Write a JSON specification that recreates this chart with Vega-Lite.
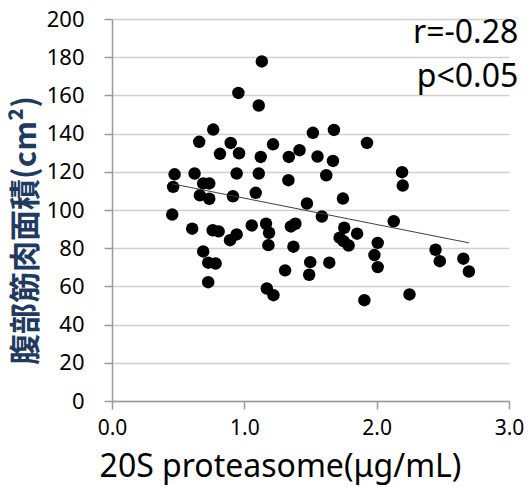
{
  "$schema": "https://vega.github.io/schema/vega-lite/v6.json",
  "width": 397,
  "height": 382,
  "autosize": "none",
  "padding": {"left": 112, "top": 19, "right": 19, "bottom": 86},
  "background": "white",
  "config": {"view": {"stroke": null}, "font": "Noto Sans"},
  "datasets": {
    "points": [
      {"x": 1.132, "y": 177.8}, {"x": 0.955, "y": 161.3}, {"x": 1.109, "y": 154.7}, {"x": 0.765, "y": 142.1},
      {"x": 0.659, "y": 135.7}, {"x": 0.897, "y": 135.1}, {"x": 0.816, "y": 129.4}, {"x": 0.960, "y": 129.7},
      {"x": 1.124, "y": 127.8}, {"x": 1.217, "y": 134.4}, {"x": 1.336, "y": 127.8}, {"x": 1.417, "y": 131.3},
      {"x": 1.518, "y": 140.4}, {"x": 1.677, "y": 141.9}, {"x": 1.553, "y": 128.0}, {"x": 1.670, "y": 125.7},
      {"x": 0.473, "y": 118.7}, {"x": 0.624, "y": 119.1}, {"x": 0.942, "y": 119.1}, {"x": 1.109, "y": 119.1},
      {"x": 1.333, "y": 115.6}, {"x": 1.619, "y": 118.2}, {"x": 0.689, "y": 113.9}, {"x": 0.735, "y": 113.9},
      {"x": 0.462, "y": 112.1}, {"x": 0.664, "y": 107.7}, {"x": 0.735, "y": 105.9}, {"x": 0.914, "y": 107.2},
      {"x": 1.086, "y": 109.0}, {"x": 1.473, "y": 103.4}, {"x": 1.586, "y": 96.6}, {"x": 0.455, "y": 97.6},
      {"x": 0.606, "y": 90.2}, {"x": 0.761, "y": 89.4}, {"x": 0.806, "y": 88.8}, {"x": 0.892, "y": 84.2},
      {"x": 0.942, "y": 87.2}, {"x": 1.056, "y": 91.9}, {"x": 1.164, "y": 92.8}, {"x": 1.187, "y": 88.1},
      {"x": 1.182, "y": 81.6}, {"x": 1.352, "y": 91.4}, {"x": 1.386, "y": 92.8}, {"x": 1.371, "y": 80.8},
      {"x": 0.689, "y": 78.3}, {"x": 0.727, "y": 72.4}, {"x": 0.783, "y": 72.0}, {"x": 0.727, "y": 62.2},
      {"x": 1.170, "y": 58.9}, {"x": 1.220, "y": 55.4}, {"x": 1.308, "y": 68.4}, {"x": 1.498, "y": 72.7},
      {"x": 1.490, "y": 66.1}, {"x": 1.642, "y": 72.4}, {"x": 2.192, "y": 119.8}, {"x": 2.197, "y": 112.8},
      {"x": 1.745, "y": 106.0}, {"x": 2.129, "y": 94.1}, {"x": 1.755, "y": 90.7}, {"x": 1.852, "y": 87.6},
      {"x": 1.720, "y": 85.5}, {"x": 1.750, "y": 83.7}, {"x": 1.788, "y": 81.4}, {"x": 2.008, "y": 82.8},
      {"x": 1.983, "y": 76.4}, {"x": 2.008, "y": 70.1}, {"x": 2.445, "y": 79.2}, {"x": 2.477, "y": 73.2},
      {"x": 2.655, "y": 74.5}, {"x": 2.697, "y": 67.8}, {"x": 2.248, "y": 55.8}, {"x": 1.907, "y": 52.8},
      {"x": 1.927, "y": 135.1}
    ],
    "trend": [{"x": 0.455, "y": 113.7}, {"x": 2.697, "y": 82.8}],
    "notes": [{"label": "r=-0.28", "x": 3.07, "y": 187.6}, {"label": "p<0.05", "x": 3.07, "y": 164.6}]
  },
  "encoding": {
    "x": {
      "field": "x", "type": "quantitative",
      "scale": {"domain": [0, 3], "nice": false, "zero": true},
      "axis": {
        "values": [0, 1, 2, 3], "format": ".1f", "grid": false,
        "domainColor": "#9a9a9a", "domainWidth": 1.5, "tickColor": "#9a9a9a", "tickSize": 8, "tickWidth": 1.5,
        "labelFontSize": 21, "labelColor": "#000000", "labelFlush": false, "labelOverlap": false,
        "labelBaseline": "alphabetic", "labelPadding": 25,
        "title": "20S proteasome(μg/mL)", "titleFontSize": 32, "titleFontWeight": "normal", "titleColor": "#000000",
        "titleX": 168, "titleY": 75, "titleBaseline": "alphabetic", "titleAlign": "center", "titleAnchor": null
      }
    },
    "y": {
      "field": "y", "type": "quantitative",
      "scale": {"domain": [0, 200], "nice": false},
      "axis": {
        "values": [0, 20, 40, 60, 80, 100, 120, 140, 160, 180, 200],
        "grid": true, "gridColor": "#d0d0d0", "gridWidth": 1.5,
        "domainColor": "#9a9a9a", "domainWidth": 1.5, "tickColor": "#9a9a9a", "tickSize": 8, "tickWidth": 1.5,
        "labelFontSize": 22, "labelColor": "#000000", "labelFlush": false, "labelOverlap": false, "labelPadding": 20,
        "title": "腹部筋肉面積(cm²)", "titleFont": "Noto Sans CJK JP", "titleFontSize": 31, "titleFontWeight": "bold",
        "titleColor": "#1F3A5F", "titleX": -86, "titleY": 211, "titleAngle": -90,
        "titleBaseline": "middle", "titleAlign": "center", "titleAnchor": null
      }
    }
  },
  "layer": [
    {
      "data": {"name": "points"},
      "mark": {"type": "circle", "size": 155, "color": "#000000", "opacity": 1}
    },
    {
      "data": {"name": "trend"},
      "mark": {"type": "line", "color": "#404040", "strokeWidth": 1}
    },
    {
      "data": {"name": "notes"},
      "mark": {"type": "text", "align": "right", "baseline": "alphabetic", "fontSize": 32, "color": "#000000", "font": "Noto Sans"},
      "encoding": {"text": {"field": "label"}}
    }
  ]
}
